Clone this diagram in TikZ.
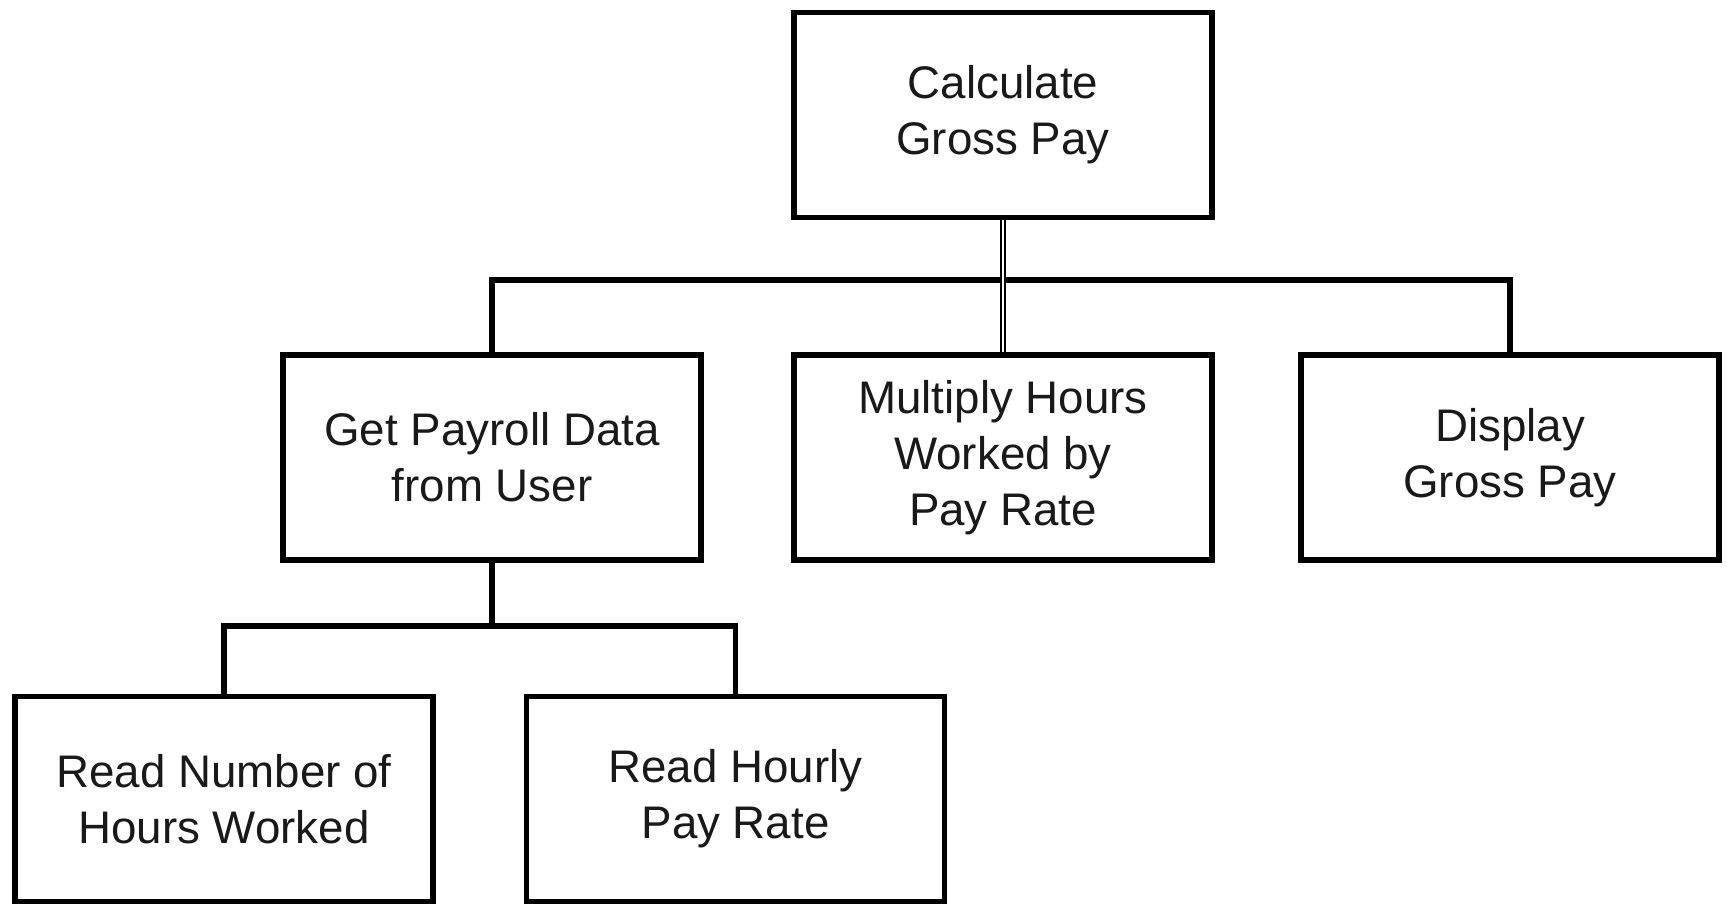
\documentclass[tikz,border=0pt]{standalone}
\usepackage{fontspec}
\setmainfont{Liberation Sans}
\begin{document}
\begin{tikzpicture}[
    module/.style={draw, line width=1.6pt, minimum width=4.18cm, minimum height=2.05cm,
        align=center, inner sep=2pt, text=black!90,
        font=\fontsize{13pt}{16pt}\selectfont},
    link/.style={line width=1.6pt},
    call/.style={double, line width=0.45pt, double distance=0.6pt}
]
\useasboundingbox (0,0) rectangle (17.27,-9.05);

% modules
\node[module] (calc)     at (10.03, -1.15) {Calculate\\Gross Pay};
\node[module] (getdata)  at ( 4.92, -4.575) {Get Payroll Data\\from User};
\node[module] (multiply) at (10.03, -4.575) {Multiply Hours\\Worked by\\Pay Rate};
\node[module] (display)  at (15.10, -4.575) {Display\\Gross Pay};
\node[module] (readhrs)  at ( 2.24, -7.99) {Read Number of\\Hours Worked};
\node[module] (readrate) at ( 7.355, -7.99) {Read Hourly\\Pay Rate};

% bus levels
\coordinate (bus1) at (0, -2.80);
\coordinate (bus2) at (0, -6.26);

\draw[link] (getdata.north) -- (getdata.north |- bus1) -- (display.north |- bus1) -- (display.north);
\draw[call] (calc.south) -- (multiply.north);

\draw[link] (getdata.south) -- (getdata.south |- bus2);
\draw[link] (readhrs.north) -- (readhrs.north |- bus2) -- (readrate.north |- bus2) -- (readrate.north);

\end{tikzpicture}
\end{document}
